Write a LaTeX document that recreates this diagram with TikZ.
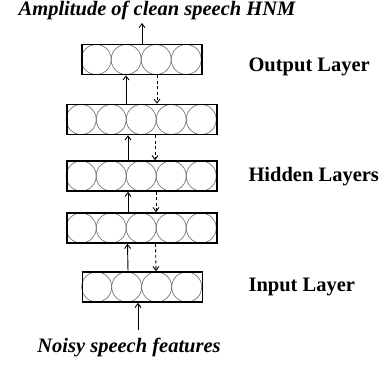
\documentclass[tikz,border=0pt]{standalone}
\usepackage{fontspec}
\setmainfont{Liberation Serif}
\usetikzlibrary{arrows.meta,backgrounds}

\tikzset{
  layer/.style={draw,line width=1.6pt,minimum height=30pt,inner sep=0pt},
  cell/.style={draw=black!60,line width=0.6pt},
  flow/.style={line width=0.9pt,-{Straight Barb[length=4pt,width=6pt]}},
  back/.style={flow,dashed,dash pattern=on 3pt off 2.5pt},
  lbl/.style={font=\fontsize{20.5}{24}\selectfont\bfseries,anchor=west},
  io/.style={font=\fontsize{20.5}{24}\selectfont\bfseries\itshape},
}
\newcommand{\cells}[2]{%
  \begin{scope}[on background layer]
    \foreach \i in {1,...,#2}
      \draw[cell] ([xshift=\i*30pt-15pt]#1.west) circle[radius=15pt];
  \end{scope}}

\begin{document}
\begin{tikzpicture}[x=1pt,y=-1pt]
  \useasboundingbox (0,0) rectangle (384,365);
  \node[layer,minimum width=120pt] (out) at (142,59.5) {};
  \node[layer,minimum width=150pt] (hid1) at (142,119.5) {};
  \node[layer,minimum width=150pt] (hid2) at (142,176) {};
  \node[layer,minimum width=150pt] (hid3) at (142,228) {};
  \node[layer,minimum width=120pt] (inp) at (142.5,287) {};
  \cells{out}{4}
  \cells{hid1}{5}
  \cells{hid2}{5}
  \cells{hid3}{5}
  \cells{inp}{4}
  \node[io] (title) at (157,10) {Amplitude of clean speech HNM};
  \node[io] (feat) at (129,347) {Noisy speech features};
  \coordinate (src) at (138,330);
  \draw[flow] (src) -- (src |- inp.south);
  \draw[flow] (out.north) -- (out.north |- title.south);
  \draw[flow] ([xshift=-16pt]hid1.north) -- ([xshift=-16pt]out.south);
  \draw[back] ([xshift=15pt]out.south) -- ([xshift=15pt]hid1.north);
  \draw[flow] ([xshift=-14pt]hid2.north) -- ([xshift=-14pt]hid1.south);
  \draw[back] ([xshift=13pt]hid1.south) -- ([xshift=13pt]hid2.north);
  \draw[flow] ([xshift=-14pt]hid3.north) -- ([xshift=-14pt]hid2.south);
  \draw[back] ([xshift=14pt]hid2.south) -- ([xshift=14pt]hid3.north);
  \draw[flow] ([xshift=-14.5pt]inp.north) -- ([xshift=-14.5pt]hid3.south);
  \draw[back] ([xshift=13.5pt]hid3.south) -- ([xshift=13.5pt]inp.north);
  \node[lbl] (outlbl) at (245,67) {Output Layer};
  \node[lbl] (hidlbl) at (245,177) {Hidden Layers};
  \node[lbl] (inplbl) at (245,287) {Input Layer};
\end{tikzpicture}
\end{document}
